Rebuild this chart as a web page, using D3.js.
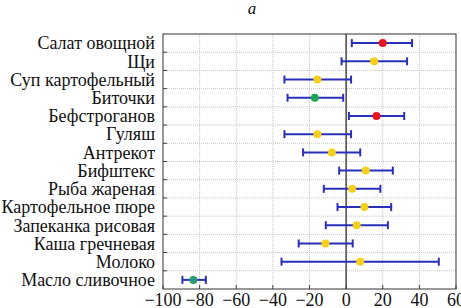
<!DOCTYPE html>
<html>
<head>
<meta charset="utf-8">
<script src="https://cdn.jsdelivr.net/npm/d3@7"></script>
<style>
  body { margin: 0; background: #fff; }
  svg { display: block; }
  text { font-family: "Liberation Serif", "DejaVu Serif", serif; fill: #111; }
</style>
</head>
<body>
<div id="chart"></div>
<script>
// Categories top to bottom
const dishes = ['Салат овощной', 'Щи', 'Суп картофельный', 'Биточки', 'Бефстроганов',
  'Гуляш', 'Антрекот', 'Бифштекс', 'Рыба жареная', 'Картофельное пюре',
  'Запеканка рисовая', 'Каша гречневая', 'Молоко', 'Масло сливочное'];

// Estimated mean and interval bounds
const centers = [20, 15.3, -15.7, -17.1, 16.6, -15.7, -7.8, 10.7, 3.3, 10, 5.8, -11.3, 7.7, -83.4];
const lows    = [3.1, -2.5, -33.7, -32, 1.5, -33.7, -23.5, -3.8, -12.2, -4.7, -11.1, -25.9, -35.3, -89.4];
const highs   = [36, 33.3, 2.7, -1.6, 31.7, 2.7, 7.7, 25.5, 18.7, 24.6, 22.8, 3.6, 50.6, -76.6];
const groups  = ['red', 'yellow', 'yellow', 'green', 'red', 'yellow', 'yellow', 'yellow',
  'yellow', 'yellow', 'yellow', 'yellow', 'yellow', 'teal'];

const xTicks = [-100, -80, -60, -40, -20, 0, 20, 40, 60];
const panelLabel = 'a';

const colors = { red: '#e8141e', yellow: '#f4cf1c', green: '#1aa652', teal: '#2a9a78' };

const width = 461, height = 308;
const margin = { top: 34, right: 5, bottom: 19, left: 163 };
const innerWidth = width - margin.left - margin.right;
const innerHeight = height - margin.top - margin.bottom;

const svg = d3.select('#chart').append('svg')
  .attr('width', width)
  .attr('height', height);

svg.append('text')
  .attr('x', 252)
  .attr('y', 14)
  .attr('text-anchor', 'middle')
  .style('font-style', 'italic')
  .style('font-size', '17px')
  .text(panelLabel);

const g = svg.append('g')
  .attr('transform', `translate(${margin.left},${margin.top})`);

const x = d3.scaleLinear().domain([-100, 60]).range([0, innerWidth]);
const y = d3.scaleBand().domain(dishes).range([0, innerHeight]);

// Grid
g.selectAll('.vgrid').data(xTicks.slice(1, -1)).enter().append('line')
  .attr('x1', d => x(d)).attr('x2', d => x(d))
  .attr('y1', 0).attr('y2', innerHeight)
  .attr('stroke', '#c4c4c4').attr('stroke-width', 1)
  .attr('stroke-dasharray', '1,1');

g.selectAll('.hgrid').data(dishes.slice(1)).enter().append('line')
  .attr('x1', 0).attr('x2', innerWidth)
  .attr('y1', d => y(d)).attr('y2', d => y(d))
  .attr('stroke', '#c4c4c4').attr('stroke-width', 1)
  .attr('stroke-dasharray', '1,1');

// Zero line
g.append('line')
  .attr('x1', x(0)).attr('x2', x(0))
  .attr('y1', 0).attr('y2', innerHeight)
  .attr('stroke', '#222').attr('stroke-width', 1.2);

// Left ticks at band boundaries
g.selectAll('.ltick').data(dishes.slice(1)).enter().append('line')
  .attr('x1', 0).attr('x2', 4)
  .attr('y1', d => y(d)).attr('y2', d => y(d))
  .attr('stroke', '#444');

// Bottom ticks
g.selectAll('.btick').data(xTicks).enter().append('line')
  .attr('x1', d => x(d)).attr('x2', d => x(d))
  .attr('y1', innerHeight).attr('y2', innerHeight - 4)
  .attr('stroke', '#444');

// Frame
g.append('rect')
  .attr('width', innerWidth).attr('height', innerHeight)
  .attr('fill', 'none').attr('stroke', '#333').attr('stroke-width', 1);

// Error bars
const rows = dishes.map((d, i) => ({ name: d, c: centers[i], lo: lows[i], hi: highs[i], grp: groups[i] }));
const bar = g.selectAll('.bar').data(rows).enter().append('g')
  .attr('transform', d => `translate(0,${y(d.name) + y.bandwidth() / 2})`);

bar.append('line')
  .attr('x1', d => x(d.lo)).attr('x2', d => x(d.hi))
  .attr('stroke', '#2a2fb8').attr('stroke-width', 2);
bar.append('line')
  .attr('x1', d => x(d.lo)).attr('x2', d => x(d.lo))
  .attr('y1', -4).attr('y2', 4)
  .attr('stroke', '#2a2fb8').attr('stroke-width', 2);
bar.append('line')
  .attr('x1', d => x(d.hi)).attr('x2', d => x(d.hi))
  .attr('y1', -4).attr('y2', 4)
  .attr('stroke', '#2a2fb8').attr('stroke-width', 2);
bar.append('circle')
  .attr('cx', d => x(d.c))
  .attr('r', 4)
  .attr('fill', d => colors[d.grp]);

// Category labels
g.selectAll('.ylab').data(dishes).enter().append('text')
  .attr('x', -8)
  .attr('y', d => y(d) + y.bandwidth() / 2)
  .attr('dy', '0.35em')
  .attr('text-anchor', 'end')
  .style('font-size', '18px')
  .text(d => d);

// X tick labels
g.selectAll('.xlab').data(xTicks).enter().append('text')
  .attr('x', d => x(d))
  .attr('y', innerHeight + 17)
  .attr('text-anchor', 'middle')
  .style('font-size', '18px')
  .text(d => d < 0 ? '\u2212' + Math.abs(d) : d);
</script>
</body>
</html>
